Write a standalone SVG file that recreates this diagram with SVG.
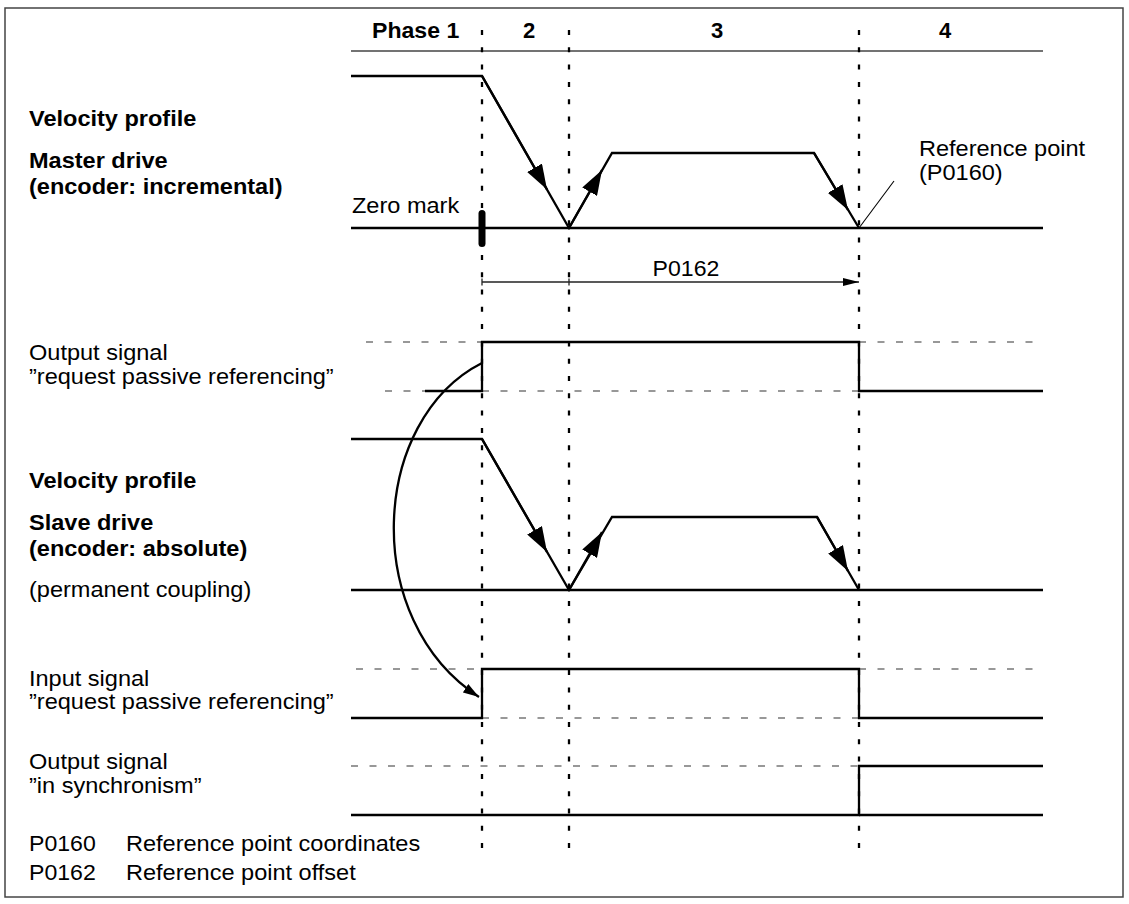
<svg xmlns="http://www.w3.org/2000/svg" width="1129" height="904" viewBox="0 0 1129 904">
<style>
text{font-family:"Liberation Sans",Arial,Helvetica,sans-serif;font-size:22px;fill:#000}
.b{font-weight:bold}
.sig{fill:none;stroke:#000;stroke-width:2.3;stroke-linejoin:miter}
.vd{fill:none;stroke:#000;stroke-width:2.3;stroke-dasharray:5 12.3}
.hd{fill:none;stroke:#333;stroke-width:1.2;stroke-dasharray:7 11.5}
.thin{fill:none;stroke:#000;stroke-width:1.1}
.arr{fill:none;stroke:#000;stroke-width:2.3;marker-end:url(#ah)}
</style>
<defs>
<marker id="ah" viewBox="0 0 25 17" refX="25" refY="8.5" markerWidth="25" markerHeight="17" markerUnits="userSpaceOnUse" orient="auto"><path d="M0,0 L25,8.5 L0,17 Z" fill="#000"/></marker>
<marker id="dim" viewBox="0 0 16 8" refX="16" refY="4" markerWidth="16" markerHeight="8" markerUnits="userSpaceOnUse" orient="auto"><path d="M0,0 L16,4 L0,8 Z" fill="#000"/></marker>
<marker id="cv" viewBox="0 0 16 10" refX="16" refY="5" markerWidth="16" markerHeight="10" markerUnits="userSpaceOnUse" orient="auto"><path d="M0,0 L16,5 L0,10 Z" fill="#000"/></marker>
</defs>
<rect x="5" y="8" width="1118" height="889" fill="#fff" stroke="#444" stroke-width="1.5"/>
<g id="header">
<line x1="351" y1="51" x2="1043" y2="51" stroke="#444" stroke-width="1.5"/>
<text class="b" transform="translate(372 38) scale(1.05 1)">Phase 1</text>
<text class="b" x="529" y="38" text-anchor="middle">2</text>
<text class="b" x="717" y="38" text-anchor="middle">3</text>
<text class="b" x="945" y="38" text-anchor="middle">4</text>
</g>
<g id="phase-lines">
<line class="vd" x1="482" y1="30" x2="482" y2="855"/>
<line class="vd" x1="569" y1="30" x2="569" y2="855"/>
<line class="vd" x1="859" y1="30" x2="859" y2="855"/>
</g>
<g id="master-velocity">
<text class="b" transform="translate(29 126) scale(1.07 1)">Velocity profile</text>
<text class="b" transform="translate(29 168) scale(1.07 1)">Master drive</text>
<text class="b" transform="translate(29 194) scale(1.07 1)">(encoder: incremental)</text>
<line class="sig" x1="351" y1="228" x2="1043" y2="228"/>
<polyline class="sig" points="351,76 482,76 569,228 612,153 814,153 859,228"/>
<path class="arr" d="M482,76 L547,189.5"/>
<path class="arr" d="M569,228 L602,170"/>
<path class="arr" d="M814,153 L848,210"/>
</g>
<g id="zero-mark">
<text transform="translate(352 213) scale(1.07 1)">Zero mark</text>
<rect x="478.5" y="210" width="7" height="37" rx="3.5" fill="#000"/>
</g>
<g id="reference-point">
<line class="thin" x1="859" y1="228" x2="894" y2="181"/>
<text transform="translate(919 156) scale(1.07 1)">Reference point</text>
<text transform="translate(919 180) scale(1.07 1)">(P0160)</text>
</g>
<g id="p0162-dimension">
<text transform="translate(686 276) scale(1.05 1)" text-anchor="middle">P0162</text>
<line x1="482" y1="282" x2="859" y2="282" stroke="#222" stroke-width="1.3" marker-end="url(#dim)"/>
<line x1="482" y1="278.5" x2="482" y2="285.5" stroke="#222" stroke-width="1.3"/>
<line x1="569" y1="278.5" x2="569" y2="285.5" stroke="#222" stroke-width="1.3"/>
</g>
<g id="output-request">
<text transform="translate(29 360) scale(1.07 1)">Output signal</text>
<text transform="translate(29 384) scale(1.07 1)">”request passive referencing”</text>
<line class="hd" x1="366" y1="342" x2="482" y2="342"/>
<line class="hd" x1="859" y1="342" x2="1043" y2="342"/>
<line class="hd" x1="385" y1="391" x2="425" y2="391"/>
<line class="hd" x1="482" y1="391" x2="859" y2="391"/>
<polyline class="sig" points="425,391 482,391 482,342 859,342 859,391 1043,391"/>
</g>
<g id="slave-velocity">
<text class="b" transform="translate(29 488) scale(1.07 1)">Velocity profile</text>
<text class="b" transform="translate(29 530) scale(1.07 1)">Slave drive</text>
<text class="b" transform="translate(29 556) scale(1.07 1)">(encoder: absolute)</text>
<text transform="translate(29 597) scale(1.07 1)">(permanent coupling)</text>
<line class="sig" x1="351" y1="590" x2="1043" y2="590"/>
<polyline class="sig" points="351,439 482,439 569,590 612,517 817,517 859,590"/>
<path class="arr" d="M482,439 L547,552"/>
<path class="arr" d="M569,590 L602,532"/>
<path class="arr" d="M817,517 L848,571"/>
</g>
<g id="input-request">
<text transform="translate(29 686) scale(1.07 1)">Input signal</text>
<text transform="translate(29 709) scale(1.07 1)">”request passive referencing”</text>
<line class="hd" x1="356" y1="669" x2="482" y2="669"/>
<line class="hd" x1="859" y1="669" x2="1043" y2="669"/>
<line class="hd" x1="482" y1="718" x2="859" y2="718"/>
<polyline class="sig" points="351,718 482,718 482,669 859,669 859,718 1043,718"/>
</g>
<g id="output-sync">
<text transform="translate(29 769) scale(1.07 1)">Output signal</text>
<text transform="translate(29 793) scale(1.07 1)">”in synchronism”</text>
<line class="hd" x1="351" y1="766" x2="859" y2="766"/>
<polyline class="sig" points="351,815 859,815 859,766 1043,766"/>
<line class="sig" x1="859" y1="815" x2="1043" y2="815"/>
</g>
<g id="connectors">
<path d="M482,363 C370,420 360,620 479,697" fill="none" stroke="#000" stroke-width="2.3" marker-end="url(#cv)"/>
</g>
<g id="legend">
<text transform="translate(29 851) scale(1.05 1)">P0160</text>
<text transform="translate(126 851) scale(1.07 1)">Reference point coordinates</text>
<text transform="translate(29 880) scale(1.05 1)">P0162</text>
<text transform="translate(126 880) scale(1.07 1)">Reference point offset</text>
</g>
</svg>
